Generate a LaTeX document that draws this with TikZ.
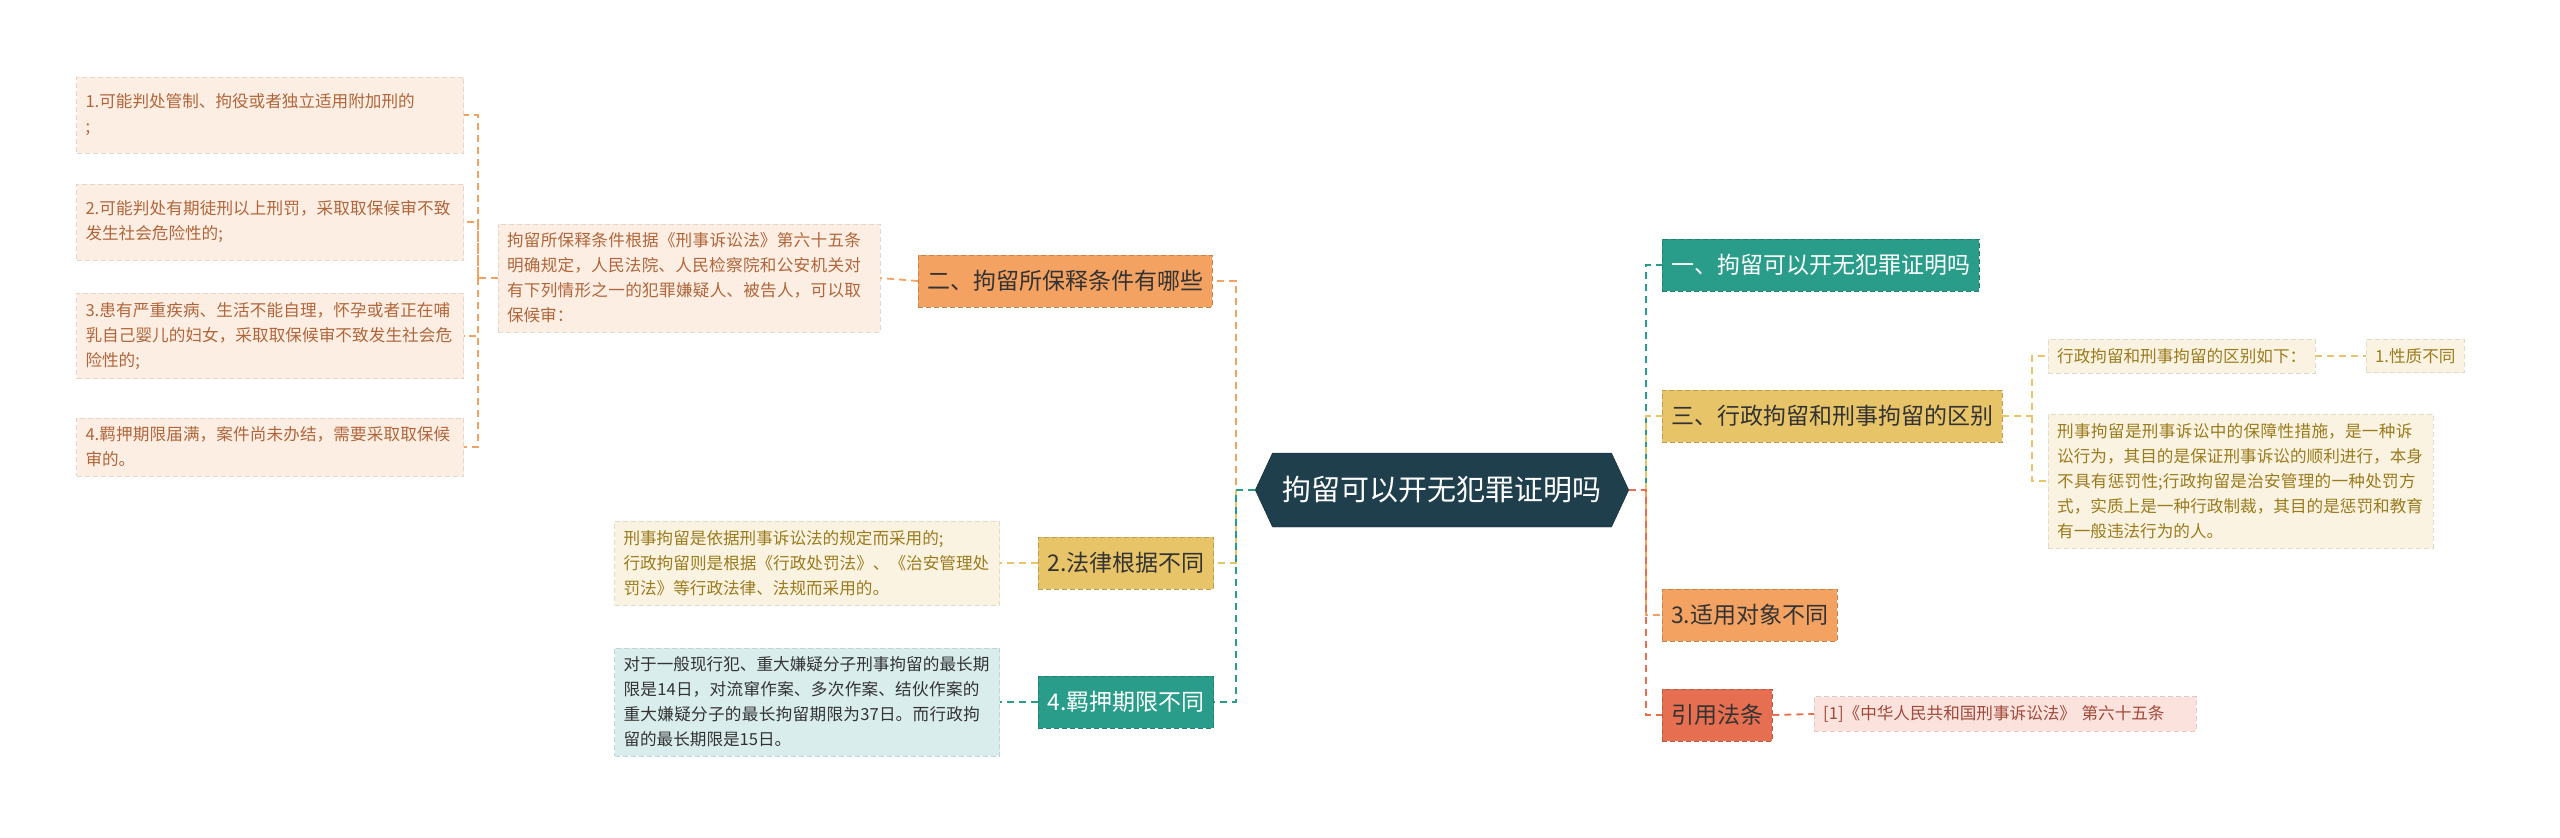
\documentclass[tikz,border=0pt]{standalone}
\usepackage{fontspec}
\setmainfont{Noto Sans CJK SC}
\XeTeXlinebreaklocale "zh"
\XeTeXlinebreakskip=0pt plus 1pt
\usetikzlibrary{shapes.symbols}
\definecolor{cdark}{HTML}{1F3F4D}
\definecolor{cteal}{HTML}{2A9D8A}
\definecolor{cyel}{HTML}{E8C468}
\definecolor{cora}{HTML}{F4A261}
\definecolor{cred}{HTML}{E76F51}
\definecolor{fora}{HTML}{FDEEE4}
\definecolor{tora}{HTML}{B0663A}
\definecolor{fyel}{HTML}{FBF3E1}
\definecolor{tyel}{HTML}{9A7B1E}
\definecolor{fteal}{HTML}{D8EDEC}
\definecolor{fred}{HTML}{FBE2DC}
\definecolor{tred}{HTML}{A04A3A}
\tikzset{
 br/.style={draw=#1!80!black, dash pattern=on 5pt off 3pt, fill=#1, inner xsep=9pt, minimum height=52pt, font=\fontsize{23}{27}\selectfont, text=black!80},
 lf/.style={fill=#1, draw=#1!90!black, dash pattern=on 5pt off 3pt, inner sep=9pt, align=left, font=\fontsize{16.6}{25}\selectfont},
 cn/.style={draw=#1, dash pattern=on 7pt off 5pt, line width=1.8pt},
}
\begin{document}
\begin{tikzpicture}[x=1pt,y=-1pt]
\useasboundingbox (0,0) rectangle (2560,838);
\node[signal, signal to=west and east, signal pointer angle=130, fill=cdark, draw=cdark!70!black, text=white, font=\fontsize{29}{34}\selectfont, minimum height=74pt, inner xsep=10pt] (c) at (1442,490) {拘留可以开无犯罪证明吗};
% left branches
\node[br=cora] (b2) at (1065,281) {二、拘留所保释条件有哪些};
\node[br=cyel] (bl) at (1126,563) {2.法律根据不同};
\node[br=cteal, text=white] (bj) at (1126,702) {4.羁押期限不同};
\node[lf=fora, text=tora, text width=364pt] (bx) at (689,278) {拘留所保释条件根据《刑事诉讼法》第六十五条明确规定，人民法院、人民检察院和公安机关对有下列情形之一的犯罪嫌疑人、被告人，可以取保候审：};
\node[lf=fora, text=tora, text width=369pt, minimum height=76pt] (l1) at (270,115) {1.可能判处管制、拘役或者独立适用附加刑的\\;};
\node[lf=fora, text=tora, text width=369pt, minimum height=76pt] (l2) at (270,222) {2.可能判处有期徒刑以上刑罚，采取取保候审不致发生社会危险性的;};
\node[lf=fora, text=tora, text width=369pt] (l3) at (270,336) {3.患有严重疾病、生活不能自理，怀孕或者正在哺乳自己婴儿的妇女，采取取保候审不致发生社会危险性的;};
\node[lf=fora, text=tora, text width=369pt] (l4) at (270,447) {4.羁押期限届满，案件尚未办结，需要采取取保候审的。};
\node[lf=fyel, text=tyel, text width=367pt] (lx) at (807,563) {刑事拘留是依据刑事诉讼法的规定而采用的;\\行政拘留则是根据《行政处罚法》、《治安管理处罚法》等行政法律、法规而采用的。};
\node[lf=fteal, text=black!80, text width=367pt] (jx) at (807,702) {对于一般现行犯、重大嫌疑分子刑事拘留的最长期限是14日，对流窜作案、多次作案、结伙作案的重大嫌疑分子的最长拘留期限为37日。而行政拘留的最长期限是15日。};
% right branches
\node[br=cteal, text=white, anchor=west] (r1) at (1662,265) {一、拘留可以开无犯罪证明吗};
\node[br=cyel, anchor=west] (r3) at (1662,416) {三、行政拘留和刑事拘留的区别};
\node[br=cora, anchor=west] (ra) at (1662,615) {3.适用对象不同};
\node[br=cred, anchor=west] (rf) at (1662,715) {引用法条};
\node[lf=fyel, text=tyel, anchor=west] (q1) at (2048,356) {行政拘留和刑事拘留的区别如下：};
\node[lf=fyel, text=tyel, anchor=west] (q2) at (2366,356) {1.性质不同};
\node[lf=fyel, text=tyel, text width=367pt, anchor=west] (q3) at (2048,481) {刑事拘留是刑事诉讼中的保障性措施，是一种诉讼行为，其目的是保证刑事诉讼的顺利进行，本身不具有惩罚性;行政拘留是治安管理的一种处罚方式，实质上是一种行政制裁，其目的是惩罚和教育有一般违法行为的人。};
\node[lf=fred, text=tred, text width=364pt, anchor=west] (rx) at (1814,714) {[1]《中华人民共和国刑事诉讼法》 第六十五条};
% trunk coordinates
\coordinate (tl) at (1236,0);
\coordinate (tr) at (1646,0);
\coordinate (t2) at (478,0);
\coordinate (t3) at (2032,0);
% connectors
\draw[cn=cora] (c.west) -- (c.west -| tl) |- (b2.east);
\draw[cn=cyel] (c.west -| tl) |- (bl.east);
\draw[cn=cteal] (c.west) -- (c.west -| tl) |- (bj.east);
\draw[cn=cora] (b2.west) -- (bx.east);
\draw[cn=cora] (bx.west) -- (bx.west -| t2) |- (l1.east);
\draw[cn=cora] (bx.west -| t2) |- (l2.east);
\draw[cn=cora] (bx.west -| t2) |- (l3.east);
\draw[cn=cora] (bx.west -| t2) |- (l4.east);
\draw[cn=cyel] (bl.west) -- (lx.east);
\draw[cn=cteal] (bj.west) -- (jx.east);
\draw[cn=cteal] (c.east) -- (c.east -| tr) |- (r1.west);
\draw[cn=cyel] (c.east -| tr) |- (r3.west);
\draw[cn=cora] (c.east -| tr) |- (ra.west);
\draw[cn=cred] (c.east) -- (c.east -| tr) |- (rf.west);
\draw[cn=cred] (rf.east) -- (rx.west);
\draw[cn=cyel] (r3.east) -- (r3.east -| t3) |- (q1.west);
\draw[cn=cyel] (r3.east -| t3) |- (q3.west);
\draw[cn=cyel] (q1.east) -- (q2.west);
\end{tikzpicture}
\end{document}
